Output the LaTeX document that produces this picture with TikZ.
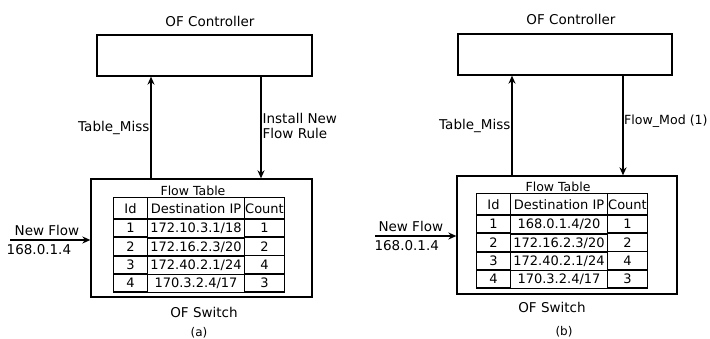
\documentclass[tikz,border=0pt]{standalone}
\usepackage{fontspec}
\setmainfont{DejaVu Sans}
\usepackage{tikz}
\usetikzlibrary{arrows.meta}
\usetikzlibrary{matrix}

\tikzset{
  box/.style={draw, line width=1.3pt, inner sep=0pt},
  msg/.style={line width=1.3pt, -{Stealth[length=8pt,width=7pt]}},
  txt/.style={font=\fontsize{13.5}{15}\selectfont, inner sep=1pt},
  flowtab/.style={matrix of nodes, inner sep=0pt, outer sep=0pt,
    column sep=-1.3pt, row sep=-1.3pt,
    nodes={draw, line width=1.3pt, inner sep=0pt, minimum height=17.8pt,
      font=\fontsize{13}{15}\selectfont},
    row 1/.style={nodes={minimum height=21.5pt}},
    column 1/.style={nodes={minimum width=34pt}},
    column 2/.style={nodes={minimum width=97pt}},
    column 3/.style={nodes={minimum width=40pt}}}
}

\begin{document}
\begin{tikzpicture}[x=1pt,y=-1pt]
\useasboundingbox (0,0) rectangle (710,339);

% (a)
\node[txt] (ctlAname) at (210,21) {OF Controller};
\node[box, minimum width=215pt, minimum height=41pt] (ctlA) at (204.5,55.5) {};
\node[box, minimum width=221pt, minimum height=118pt] (swA) at (201.5,238) {};
\matrix (tabA) [flowtab] at (199,245) {
Id & Destination IP & Count \\
1 & 172.10.3.1/18 & 1 \\
2 & 172.16.2.3/20 & 2 \\
3 & 172.40.2.1/24 & 4 \\
4 & 170.3.2.4/17 & 3 \\
};
\node[txt, font=\fontsize{12.5}{14}\selectfont, anchor=south, inner sep=0.5pt, xshift=-6pt] (ftA) at (tabA.north) {Flow Table};
\draw[msg] ([xshift=-53.5pt]ctlA.south |- swA.north) -- ([xshift=-53.5pt]ctlA.south)
  node[txt, midway, left] {Table\_Miss};
\draw[msg] ([xshift=56.5pt]ctlA.south) -- ([xshift=56.5pt]ctlA.south |- swA.north)
  node[txt, midway, right, align=left, yshift=2pt] {Install New\\Flow Rule};
\coordinate (nfA) at (10,240);
\draw[msg] (nfA) -- (nfA -| swA.west)
  node[txt, pos=0.46, above=3pt] {New Flow}
  node[txt, pos=0.36, below=3pt] {168.0.1.4};
\node[txt] (swAname) at (204,312) {OF Switch};
\node[txt, font=\fontsize{12}{14}\selectfont] (capA) at (199,333) {(a)};

% (b)
\node[txt] (ctlBname) at (571,19) {OF Controller};
\node[box, minimum width=214pt, minimum height=41pt] (ctlB) at (565,54.5) {};
\node[box, minimum width=220pt, minimum height=118pt] (swB) at (567,235) {};
\matrix (tabB) [flowtab] at (562,241) {
Id & Destination IP & Count \\
1 & 168.0.1.4/20 & 1 \\
2 & 172.16.2.3/20 & 2 \\
3 & 172.40.2.1/24 & 4 \\
4 & 170.3.2.4/17 & 3 \\
};
\node[txt, font=\fontsize{12.5}{14}\selectfont, anchor=south, inner sep=0.5pt, xshift=-4pt] (ftB) at (tabB.north) {Flow Table};
\draw[msg] ([xshift=-53pt]ctlB.south |- swB.north) -- ([xshift=-53pt]ctlB.south)
  node[txt, midway, left] {Table\_Miss};
\draw[msg] ([xshift=58pt]ctlB.south) -- ([xshift=58pt]ctlB.south |- swB.north)
  node[txt, font=\fontsize{12.6}{14}\selectfont, inner sep=0.5pt, midway, right, yshift=4pt] {Flow\_Mod (1)};
\coordinate (nfB) at (375,236);
\draw[msg] (nfB) -- (nfB -| swB.west)
  node[txt, pos=0.44, above=3pt] {New Flow}
  node[txt, pos=0.39, below=3pt] {168.0.1.4};
\node[txt] (swBname) at (552,307) {OF Switch};
\node[txt, font=\fontsize{12}{14}\selectfont] (capB) at (564,332) {(b)};
\end{tikzpicture}
\end{document}
